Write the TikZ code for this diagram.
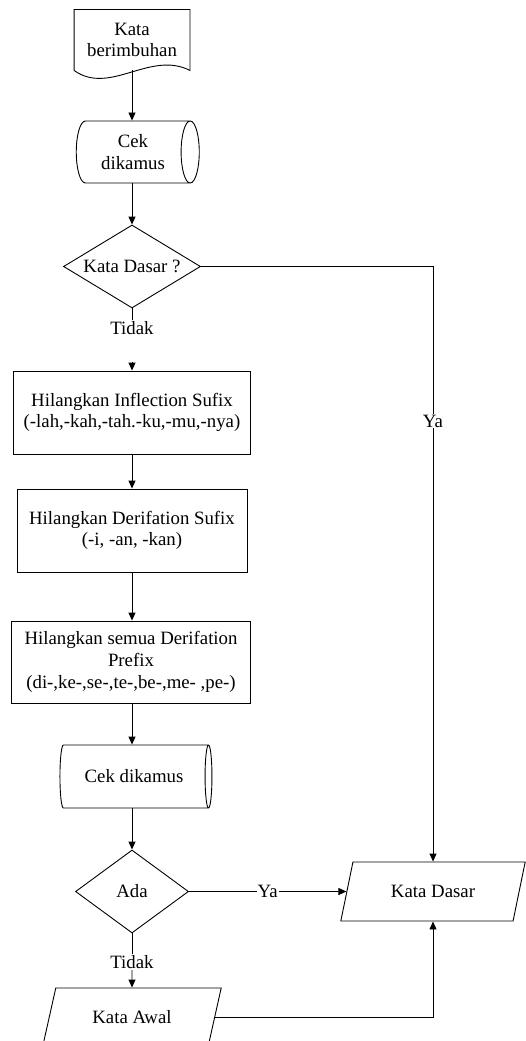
\documentclass[tikz,border=0pt]{standalone}
\usepackage{fontspec}
\setmainfont{Liberation Serif}
\usetikzlibrary{shapes.geometric,arrows.meta}

\tikzset{
  stepbox/.style={rectangle, draw, align=center},
  decision/.style={diamond, draw, shape aspect=1.65, inner sep=0pt},
  dbase/.style={cylinder, draw, shape aspect=0.52, align=center, inner sep=0pt},
  inout/.style={trapezium, trapezium left angle=63, trapezium right angle=117, trapezium stretches=true, draw, inner sep=0pt},
  lbl/.style={fill=white, inner sep=1pt}
}

\begin{document}
\begin{tikzpicture}[x=1pt, y=1pt, line width=0.9pt, >={Triangle[length=8pt,width=7pt]}, font=\fontsize{18.8}{21.7}\selectfont]
\useasboundingbox (0,0) rectangle (526,-1041);

\node (doc) [minimum width=115pt, minimum height=60pt, align=center, inner sep=0pt] at (132,-40) {Kata\\berimbuhan};
\draw (doc.south west) -- (doc.north west) -- (doc.north east) -- (doc.south east)
  .. controls (150,-50) and (110,-96) .. (doc.south west);

\node (cek1) [dbase, minimum height=123pt, minimum width=62pt] at (133,-152) {Cek\\dikamus};
\node (dasar1) [decision, minimum width=137pt, minimum height=83pt] at (132,-266.5) {Kata Dasar ?};
\node (tidak1) [inner sep=1pt] at (132,-328) {Tidak};
\coordinate (t1) at (132,-362);

\node (box1) [stepbox, minimum width=237pt, minimum height=83pt] at (132,-412.5) {Hilangkan Inflection Sufix\\(-lah,-kah,-tah.-ku,-mu,-nya)};
\node (box2) [stepbox, minimum width=230pt, minimum height=83pt] at (132,-530.5) {Hilangkan Derifation Sufix\\(-i, -an, -kan)};
\node (box3) [stepbox, minimum width=239pt, minimum height=82pt] at (131,-662) {Hilangkan semua Derifation\\Prefix\\(di-,ke-,se-,te-,be-,me- ,pe-)};

\node (cek2) [dbase, minimum height=152pt, minimum width=63pt] at (134,-776.5) {Cek dikamus};
\node (ada) [decision, minimum width=113pt, minimum height=83pt] at (132,-891.5) {Ada};
\node (tidak2) [inner sep=1pt] at (132,-962) {Tidak};

\node (katadasar) [inout, minimum width=185pt, minimum height=59pt] at (433,-891.5) {Kata Dasar};
\node (kataawal) [inout, minimum width=180pt, minimum height=58pt] at (132,-1017) {Kata Awal};

\draw[->] (doc.south) -- (doc.south |- cek1.north);
\draw[->] (dasar1.north |- cek1.south) -- (dasar1.north);
\draw[->] (dasar1.east) -| node[lbl, pos=0.63] {Ya} (katadasar.north);
\draw (dasar1.south) -- (tidak1.north);
\draw[->] (t1) -- (box1.north);
\draw[->] (box1) -- (box2);
\draw[->] (box2.south) -- (box2.south |- box3.north);
\draw[->] (box2.south |- box3.south) -- (box2.south |- cek2.north);
\draw[->] (ada.north |- cek2.south) -- (ada.north);
\draw[->] (ada.east) -- node[lbl] {Ya} (katadasar.west);
\draw (ada.south) -- (tidak2.north);
\draw[->] (tidak2.south) -- (kataawal.north);
\draw[->] (kataawal.east) -| (katadasar.south);
\end{tikzpicture}
\end{document}
